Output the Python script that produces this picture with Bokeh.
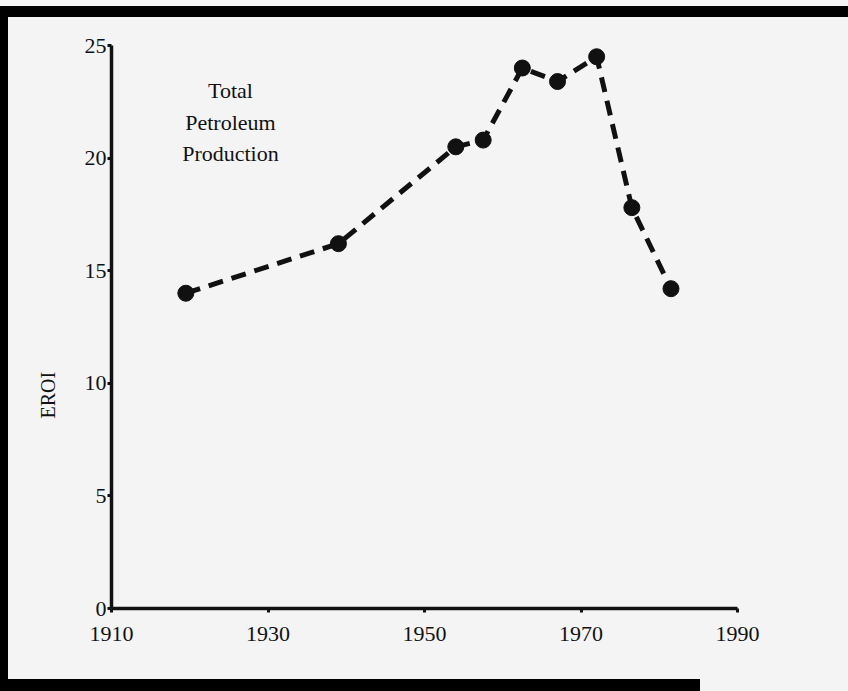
from bokeh.plotting import figure
from bokeh.layouts import column
from bokeh.models import Label, Title, FixedTicker, Range1d
from bokeh.embed import file_html
from bokeh.resources import INLINE

# Data
years = [1919.5, 1939, 1954, 1957.5, 1962.5, 1967, 1972, 1976.5, 1981.5]
eroi = [14.0, 16.2, 20.5, 20.8, 24.0, 23.4, 24.5, 17.8, 14.2]
x_ticks = [1910, 1930, 1950, 1970, 1990]
y_ticks = [0, 5, 10, 15, 20, 25]
note_lines = ["Total", "Petroleum", "Production"]
y_title = "EROI"

INK = "#111111"
BG = "#f4f4f4"
SERIF = "Liberation Serif"

p = figure(width=848, height=691,
           x_range=Range1d(1910, 1990), y_range=Range1d(0, 25),
           output_backend="svg", toolbar_location=None,
           min_border_left=111, min_border_right=111,
           min_border_top=45, min_border_bottom=83,
           background_fill_color=BG, border_fill_color=BG,
           border_fill_alpha=0)
p.outline_line_color = None
p.grid.visible = False

for ax, ticks in ((p.xaxis, x_ticks), (p.yaxis, y_ticks)):
    ax.ticker = FixedTicker(ticks=ticks)
    ax.axis_line_width = 3.5
    ax.axis_line_color = INK
    ax.major_tick_line_width = 3
    ax.major_tick_line_color = INK
    ax.major_tick_out = 4
    ax.major_tick_in = 0
    ax.minor_tick_line_color = None
    ax.major_label_text_font = SERIF
    ax.major_label_text_font_size = "22px"
    ax.major_label_text_color = INK
p.xaxis.major_label_standoff = 14
p.yaxis.major_label_standoff = 1

p.add_layout(Title(text=y_title, align="left", offset=190, standoff=46,
                   text_font=SERIF, text_font_size="20px",
                   text_font_style="normal", text_color=INK), "left")

p.line(years, eroi, line_color=INK, line_width=5, line_dash="15 9")
p.scatter(years, eroi, size=16, fill_color=INK, line_color=INK)

for txt, yy in zip(note_lines, [23.0, 21.6, 20.2]):
    p.add_layout(Label(x=1925.2, y=yy, text=txt, text_align="center",
                       text_baseline="middle", text_font=SERIF,
                       text_font_size="22px", text_color=INK))

frame_css = ("linear-gradient(#000,#000) 0px 6px / 8px 685px no-repeat, "
             "linear-gradient(#000,#000) 0px 6px / 848px 11px no-repeat, "
             "linear-gradient(#000,#000) 0px 679px / 700px 12px no-repeat, "
             + BG)
layout = column(p, styles={"background": frame_css})

open("out.html", "w").write(file_html(layout, INLINE))
